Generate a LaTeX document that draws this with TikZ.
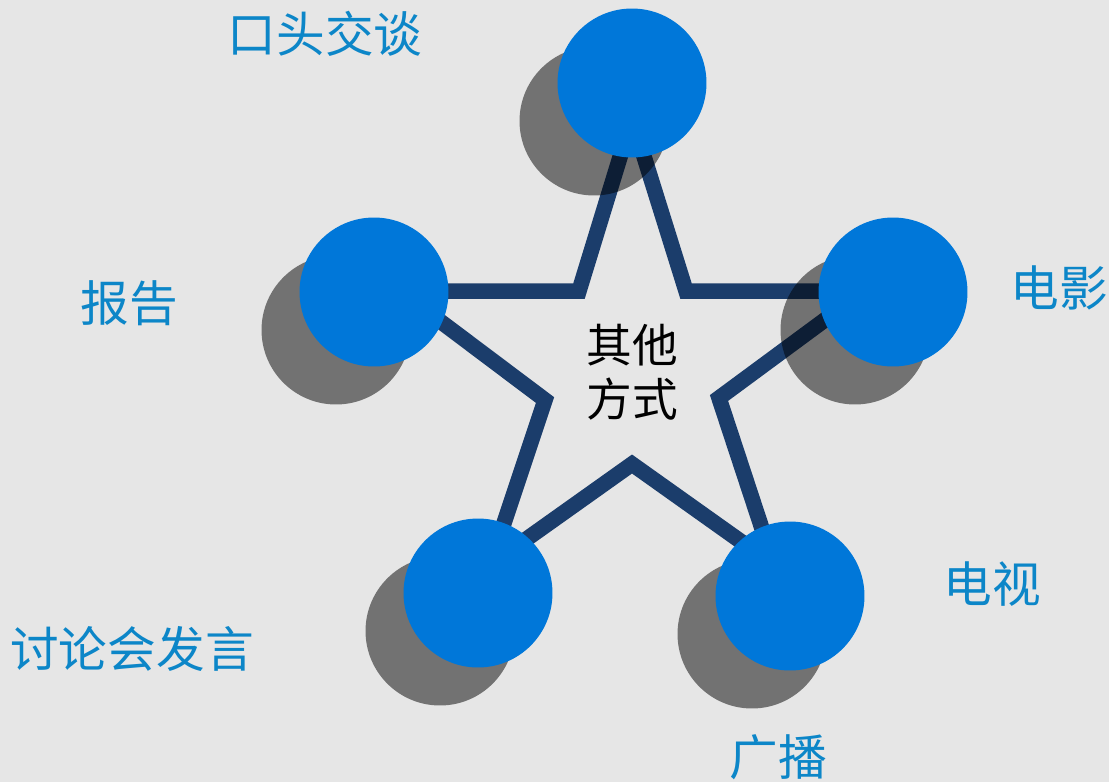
\documentclass[tikz,border=0pt]{standalone}
\usepackage{fontspec}
\newfontfamily\cjk{Noto Sans CJK SC}
\definecolor{bggray}{RGB}{230,230,230}
\definecolor{starblue}{RGB}{27,61,107}
\definecolor{dotblue}{RGB}{0,119,217}
\definecolor{textblue}{RGB}{12,134,200}
\tikzset{
  dot/.style={circle,fill=dotblue,minimum size=2.98cm,inner sep=0pt},
  dotshadow/.style={circle,fill=black,fill opacity=.5,minimum size=2.98cm,inner sep=0pt},
  lbl/.style={text=textblue,font=\cjk\fontsize{27.7}{31}\selectfont,inner sep=0pt}
}
\begin{document}
\begin{tikzpicture}[x=0.02cm,y=-0.02cm]
      \clip (0,0) rectangle (1109,782);
      \fill[bggray] (0,0) rectangle (1109,782);
      \path
        (632,118) coordinate (s0)
        (686,291) coordinate (i0)
        (864,291) coordinate (s1)
        (719,398) coordinate (i1)
        (774,565) coordinate (s2)
        (632,464) coordinate (i2)
        (490,565) coordinate (s3)
        (545,400) coordinate (i3)
        (400,291) coordinate (s4)
        (579,291) coordinate (i4);
      \draw[starblue,line width=0.31cm]
        (s0) -- (i0) -- (s1) -- (i1) -- (s2) -- (i2) -- (s3) -- (i3) -- (s4) -- (i4) -- cycle;
      \node[dotshadow] (h0) at (594,121) {};
      \node[dotshadow] (h1) at (855,330) {};
      \node[dotshadow] (h2) at (752,634) {};
      \node[dotshadow] (h3) at (440,631) {};
      \node[dotshadow] (h4) at (336,330) {};
      \node[dot] (c0) at (632,83) {};
      \node[dot] (c1) at (893,292) {};
      \node[dot] (c2) at (790,596) {};
      \node[dot] (c3) at (478,593) {};
      \node[dot] (c4) at (374,292) {};
      \node[align=center,font=\cjk\fontsize{26}{31}\selectfont] (mid) at (632,372) {其他\\方式};
      \node[lbl] (l0) at (325,34) {口头交谈};
      \node[lbl] (l1) at (1059,288) {电影};
      \node[lbl] (l2) at (992,584) {电视};
      \node[lbl] (l3) at (778,757) {广播};
      \node[lbl] (l4) at (132,649) {讨论会发言};
      \node[lbl] (l5) at (129,303) {报告};
    \end{tikzpicture}
\end{document}
